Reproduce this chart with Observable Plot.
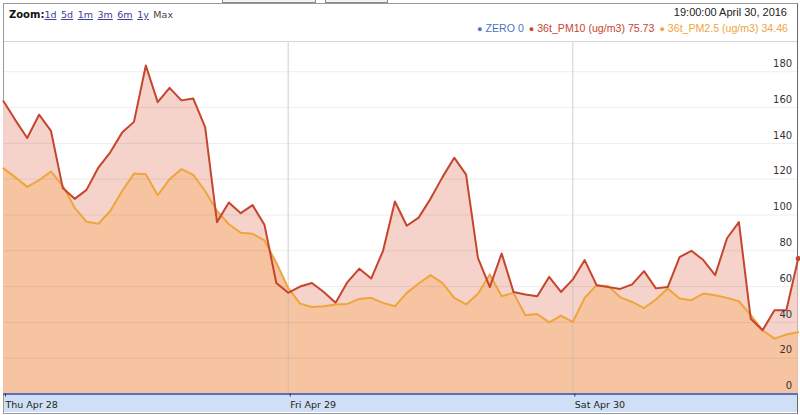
<!DOCTYPE html>
<html><head><meta charset="utf-8">
<script src="https://cdn.jsdelivr.net/npm/d3@7"></script>
<script src="https://cdn.jsdelivr.net/npm/@observablehq/plot@0.6"></script>
<style>
body{margin:0;background:#fff;}
#wrap{position:relative;width:800px;height:415px;overflow:hidden;font-family:"DejaVu Sans",Verdana,sans-serif;background:#fff;}
.btn{position:absolute;top:-20px;height:21px;border:1px solid #8a8a8a;background:#f4f4f4;}
#frame{position:absolute;left:3px;top:3px;width:793px;height:409px;border:1px solid #9a9a9a;border-right:1px solid #6a6a6a;}
#plottop{position:absolute;left:4px;top:41px;width:793px;height:0;border-top:1px solid #d6d6d6;}
#zoom{position:absolute;left:9px;top:9px;font-size:9.5px;color:#444;white-space:nowrap;}
#zoom b{color:#111;font-size:10px;}
#zoom a{color:#40409a;text-decoration:underline;margin-right:1.5px;}
#stamp{position:absolute;right:13px;top:6px;font-family:"Liberation Sans",Arial,sans-serif;font-size:11px;color:#222;}
#legend{position:absolute;right:12px;top:22px;font-family:"Liberation Sans",Arial,sans-serif;font-size:10.6px;white-space:nowrap;}
#legend .dot{margin-left:5px;margin-right:3px;font-size:9px;}
#datebar{position:absolute;left:4px;top:393px;width:793px;height:19px;background:#cfe0f6;}
#chart{position:absolute;left:0;top:41px;}
</style></head><body>
<div id="wrap">
  <div class="btn" style="left:222px;width:92px"></div>
  <div class="btn" style="left:325px;width:61px"></div>
  <div id="frame"></div>
  <div id="datebar"></div>
  <div id="zoom"><b>Zoom:</b><a>1d</a> <a>5d</a> <a>1m</a> <a>3m</a> <a>6m</a> <a>1y</a> Max</div>
  <div id="stamp">19:00:00 April 30, 2016</div>
  <div id="legend"></div>
  <div id="chart"></div>
  <div id="plottop"></div>
</div>
<script>
// hourly readings, starting Thu Apr 28 2016 00:00
const startTime = "2016-04-28T00:00:00Z";
const pm10 = [163.5,153,143,156,147,115,109,114,126.5,135,146,152,183.5,163,171,164,165,149,96,107,101,105.5,94.5,62,
  56.5,60,62,57,51,62.5,70,64.5,80,107.5,94,98.5,109,121,132,122.5,76,59.7,78.5,57,55.6,54.6,65.4,57,
  64,74.8,60.8,59.7,58.7,61.2,68.6,59,59.7,76.5,80,74.8,66.4,87,96,42,35.6,46.8,46.8,75.73];
const pm25 = [126,121,115.7,119.4,124.3,116.2,104,96.2,95.1,102.2,113.4,123.1,122.8,111,120,125.6,122.4,113.4,102.2,94.8,90.1,89.5,85.8,73.3,
  59.3,50.5,48.6,49,50,50.3,53.1,53.7,50.9,49,56.5,61.7,66.4,62.1,53.7,50,56,66.8,54.6,56.5,44,44.7,40,43.8,
  40.2,53.7,60.8,60.2,54,51.4,48,52.8,58.9,53.3,52.4,56.1,55.2,53.7,51.8,44,35.6,30.9,33.2,34.46];
const seriesNames = ["ZERO","36t_PM10 (ug/m3)","36t_PM2.5 (ug/m3)"];
const lastValues = ["0","75.73","34.46"];
const seriesColors = ["#4a74c4","#c6452f","#eea53e"];
const yTicks = [0,20,40,60,80,100,120,140,160,180];
const dayTicks = ["2016-04-28T00:00:00Z","2016-04-29T00:00:00Z","2016-04-30T00:00:00Z"];
const dayLabels = ["Thu Apr 28","Fri Apr 29","Sat Apr 30"];

const t0 = new Date(startTime);
const rows = pm10.map((v,i)=>({t:d3.utcHour.offset(t0,i), pm10:v, pm25:pm25[i]}));
const days = dayTicks.map(d=>new Date(d));

document.getElementById("legend").innerHTML = seriesNames.map((n,i)=>
  `<span class="dot" style="color:${seriesColors[i]}">\u25CF</span><span style="color:${seriesColors[i]}">${n} ${lastValues[i]}</span>`).join("");

const chart = Plot.plot({
  width:800, height:374,
  marginLeft:3, marginRight:2.3, marginTop:0.7, marginBottom:21.5,
  x:{type:"utc", domain:[rows[0].t, rows[rows.length-1].t]},
  y:{domain:[0,196.5]},
  style:{background:"transparent", overflow:"visible", fontFamily:"DejaVu Sans, Verdana, sans-serif"},
  marks:[
    Plot.areaY(rows,{x:"t",y:"pm10",fill:"#f6d3ca"}),
    Plot.areaY(rows,{x:"t",y:"pm25",fill:"#f7c4a1"}),
    Plot.ruleY(yTicks.slice(1),{stroke:"#000",strokeOpacity:0.07}),
    Plot.ruleX(days.slice(1),{stroke:"#bbb",strokeOpacity:0.7}),
    Plot.lineY(rows,{x:"t",y:"pm25",stroke:seriesColors[2],strokeWidth:2}),
    Plot.lineY(rows,{x:"t",y:"pm10",stroke:seriesColors[1],strokeWidth:2}),
    Plot.ruleY([0],{stroke:"#5572c0",strokeWidth:2}),
    Plot.dot(rows.slice(-1),{x:"t",y:"pm10",r:2.5,fill:seriesColors[1]}),
    Plot.axisY(yTicks,{anchor:"right",tickSize:0,tickPadding:0,textAnchor:"end",dx:-6,dy:-8,fontSize:10,fill:"#333",label:null}),
    Plot.axisX(days,{anchor:"bottom",tickSize:3,tickPadding:4,textAnchor:"start",dx:2,fontSize:9.5,fill:"#222",stroke:"#333",
      tickFormat:(d,i)=>dayLabels[i],label:null})
  ]
});
document.getElementById("chart").appendChild(chart);
</script>
</body></html>
